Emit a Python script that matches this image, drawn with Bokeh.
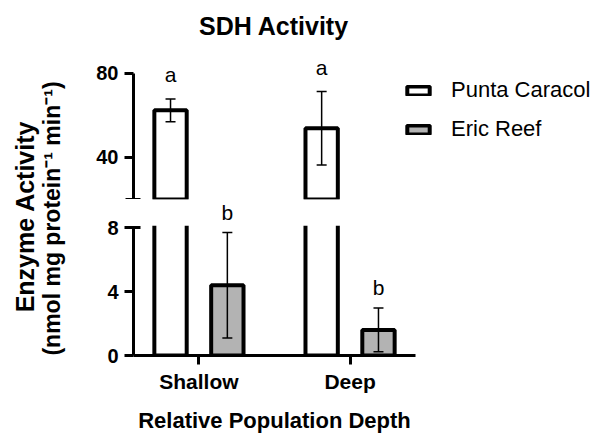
import numpy as np
from bokeh.plotting import figure
from bokeh.models import (ColumnDataSource, Range1d, FixedTicker,
                          Legend, LegendItem, LabelSet, Label, BoxAnnotation)
from bokeh.layouts import row, column
from bokeh.embed import file_html
from bokeh.resources import INLINE
from bokeh.core.properties import value

# ---------------- data ----------------
depths = ["Shallow", "Deep"]
sites = ["Punta Caracol", "Eric Reef"]
punta_mean = [62.3, 53.8]
punta_err = [5.4, 17.4]
eric_mean = [4.4, 1.6]
eric_err = [3.3, 1.37]
punta_letters = ["a", "a"]
eric_letters = ["b", "b"]
upper_ticks = [40, 80]
lower_ticks = [0, 4, 8]
upper_break = 20
lower_break = 8

# ---------------- styling / layout ----------------
FONT = "Liberation Sans"
W, H = 599, 435
LEFT_W = 70
FRAME_L = 133
FRAME_R = 415
UP_H = 199
LOW_H = H - UP_H
Y80_PX = 72.5
LOW_BOTTOM_PX = 356
Y8_PX = 227.5

x_start, x_end = -0.433, 1.433
px_per_x = (FRAME_R - FRAME_L) / (x_end - x_start)
up_x_end = x_start + (W - FRAME_L) / px_per_x
up_px_per_y = (UP_H - Y80_PX) / (upper_ticks[-1] - upper_break)
up_y_end = upper_ticks[-1] + Y80_PX / up_px_per_y
low_px_per_y = (LOW_BOTTOM_PX - Y8_PX) / lower_break
low_y_end = lower_break + (Y8_PX - UP_H) / low_px_per_y

OFFSET = 0.188
BAR_W = 0.214

x = np.arange(len(depths))


def make_src(xs, mean, err, letters):
    mean = np.array(mean, dtype=float)
    err = np.array(err, dtype=float)
    return ColumnDataSource(dict(x=xs, top=mean, lo=mean - err, hi=mean + err,
                                 letter=letters))


src_pc = make_src(x - OFFSET, punta_mean, punta_err, punta_letters)
src_er = make_src(x + OFFSET, eric_mean, eric_err, eric_letters)
bar_fill = {id(src_pc): "white", id(src_er): "#b3b3b3"}


def style_axis(ax, size="20px"):
    ax.axis_line_width = 3
    ax.axis_line_color = "black"
    ax.major_tick_line_width = 3
    ax.major_tick_line_color = "black"
    ax.major_tick_in = 0
    ax.major_tick_out = 9
    ax.minor_tick_line_width = 3
    ax.minor_tick_line_color = "black"
    ax.minor_tick_in = 7
    ax.minor_tick_out = 8
    ax.major_label_text_font = FONT
    ax.major_label_text_font_size = size
    ax.major_label_text_font_style = "bold"
    ax.major_label_text_color = "black"
    ax.major_label_standoff = 6


def bars(p, src):
    return p.vbar(x="x", top="top", bottom=0, width=BAR_W, source=src,
                  fill_color=bar_fill[id(src)], line_color="black", line_width=4)


def errors(p, src):
    p.segment(x0="x", y0="lo", x1="x", y1="hi", source=src,
              line_color="black", line_width=1.5)
    p.scatter(x="x", y="lo", source=src, marker="dash", size=10,
              line_color="black", line_width=1.5)
    p.scatter(x="x", y="hi", source=src, marker="dash", size=10,
              line_color="black", line_width=1.5)


def letters(p, src, off):
    p.add_layout(LabelSet(x="x", y="hi", text="letter", source=src,
                          text_align="center", text_baseline="alphabetic",
                          y_offset=off, text_font=value(FONT),
                          text_font_size="21px", text_color="black"))


# ---------------- upper segment ----------------
p_up = figure(width=W - LEFT_W, height=UP_H, output_backend="svg", toolbar_location=None,
              x_range=Range1d(x_start, up_x_end),
              y_range=Range1d(upper_break, up_y_end),
              x_axis_location=None,
              min_border_left=FRAME_L - LEFT_W, min_border_right=0,
              min_border_top=0, min_border_bottom=0)
p_up.frame_align = False
p_up.title = None
p_up.outline_line_color = None
p_up.grid.visible = False
r_pc = bars(p_up, src_pc)
# Eric Reef bars lie wholly below this segment: renderer kept (hidden) for the legend
r_er = bars(p_up, src_er)
r_er.visible = False
errors(p_up, src_pc)
letters(p_up, src_pc, 17)
p_up.yaxis.ticker = FixedTicker(ticks=upper_ticks, minor_ticks=[upper_break])
p_up.yaxis.bounds = (upper_break, upper_ticks[-1])
style_axis(p_up.yaxis[0])

p_up.add_layout(Label(x=x_start + (273.5 - FRAME_L) / px_per_x,
                      y=up_y_end - 25 / up_px_per_y, text="SDH Activity",
                      text_align="center", text_baseline="alphabetic", text_font=FONT,
                      text_font_size="25px", text_font_style="bold", text_color="black"))

legend = Legend(items=[LegendItem(label=sites[0], renderers=[r_pc]),
                       LegendItem(label=sites[1], renderers=[r_er])],
                location=(271, 57), orientation="vertical",
                glyph_width=28, glyph_height=11, label_standoff=19, spacing=13,
                padding=0, margin=0, border_line_alpha=0, background_fill_alpha=0,
                inactive_fill_alpha=0,
                label_text_font=FONT, label_text_font_size="22px",
                label_text_color="black")
p_up.add_layout(legend, "center")

# ---------------- lower segment ----------------
p_low = figure(width=W - LEFT_W, height=LOW_H, output_backend="svg", toolbar_location=None,
               x_range=Range1d(x_start, x_end), y_range=Range1d(0, low_y_end),
               min_border_left=FRAME_L - LEFT_W, min_border_right=W - FRAME_R,
               min_border_top=0, min_border_bottom=H - LOW_BOTTOM_PX)
p_low.frame_align = False
p_low.title = None
p_low.outline_line_color = None
p_low.grid.visible = False
bars(p_low, src_pc)
bars(p_low, src_er)
errors(p_low, src_er)
p_low.add_layout(BoxAnnotation(bottom=lower_break + 2 / low_px_per_y, fill_color="white",
                               fill_alpha=1, line_alpha=0, level="guide"))
letters(p_low, src_er, 13)
p_low.yaxis.ticker = FixedTicker(ticks=lower_ticks, minor_ticks=[lower_break])
p_low.yaxis.bounds = (0, lower_break)
style_axis(p_low.yaxis[0])
p_low.xaxis.ticker = FixedTicker(ticks=list(x))
p_low.xaxis.major_label_overrides = {int(i): d for i, d in zip(x, depths)}
style_axis(p_low.xaxis[0], size="21px")
p_low.xaxis.major_label_standoff = 5
p_low.xaxis.axis_label = "Relative Population Depth"
p_low.xaxis.axis_label_text_font = FONT
p_low.xaxis.axis_label_text_font_size = "22px"
p_low.xaxis.axis_label_text_font_style = "bold"
p_low.xaxis.axis_label_text_color = "black"
p_low.xaxis.axis_label_standoff = 12

# ---------------- y label column ----------------
p_lab = figure(width=LEFT_W, height=H, output_backend="svg", toolbar_location=None,
               x_range=Range1d(0, LEFT_W), y_range=Range1d(0, H),
               x_axis_location=None, y_axis_location=None, min_border=0)
p_lab.frame_align = False
p_lab.title = None
p_lab.outline_line_color = None
p_lab.grid.visible = False
p_lab.add_layout(Label(x=24, y=H - 216, text="Enzyme Activity", angle=np.pi / 2,
                       text_align="center", text_baseline="middle", text_font=FONT,
                       text_font_size="25px", text_font_style="bold", text_color="black"))
p_lab.add_layout(Label(x=51, y=H - 218, text="(nmol mg protein\u207b\u00b9 min\u207b\u00b9)",
                       angle=np.pi / 2, text_align="center", text_baseline="middle",
                       text_font=FONT, text_font_size="23px", text_font_style="bold",
                       text_color="black"))

layout = row(p_lab, column(p_up, p_low))
open("out.html", "w").write(file_html(layout, INLINE))
